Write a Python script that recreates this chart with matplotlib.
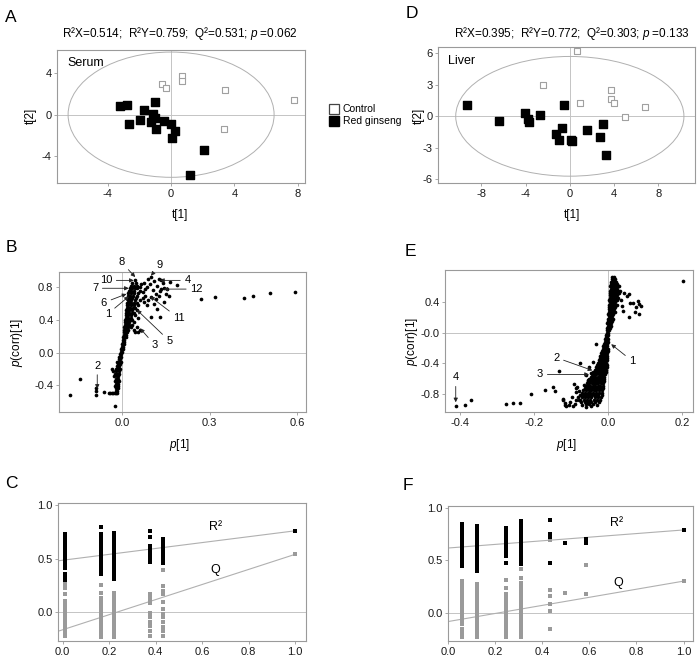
import numpy as np
import matplotlib
matplotlib.use("Agg")
import matplotlib.pyplot as plt
from matplotlib.patches import Ellipse
from matplotlib.lines import Line2D

plt.rcParams["font.family"] = ["Liberation Sans", "DejaVu Sans"]
plt.rcParams["axes.unicode_minus"] = False
plt.rcParams["mathtext.fontset"] = "custom"
plt.rcParams["mathtext.rm"] = "Liberation Sans"
plt.rcParams["mathtext.it"] = "Liberation Sans:italic"

W, H = 697, 663

# ---- A: serum OPLS-DA scores ----
serum_ctrl_t1 = [-0.55, -0.34, 0.67, 0.67, 3.42, 7.74, 3.35]
serum_ctrl_t2 = [2.92, 2.60, 3.72, 3.27, 2.40, 1.38, -1.35]
serum_rg_t1 = [-3.23, -2.77, -1.03, -1.70, -1.15, -1.01, -1.95, -2.64,
               -1.28, -0.46, -0.96, 0.00, 0.25, 0.08, 2.08, 1.17]
serum_rg_t2 = [0.87, 0.96, 1.25, 0.48, 0.03, -0.32, -0.48, -0.90,
               -0.67, -0.64, -1.38, -0.93, -1.54, -2.24, -3.40, -5.80]
serum_ellipse = (6.5, 6.05)

# ---- D: liver OPLS-DA scores ----
liver_ctrl_t1 = [0.66, -2.40, 0.93, 3.69, 3.69, 4.00, 6.79, 5.00]
liver_ctrl_t2 = [6.25, 3.02, 1.30, 2.48, 1.68, 1.27, 0.86, -0.06]
liver_rg_t1 = [-9.28, -6.40, -4.08, -3.81, -3.69, -2.73, -0.57, -0.75,
               -1.23, -1.02, 0.15, 0.24, 1.53, 3.03, 2.73, 3.24]
liver_rg_t2 = [1.11, -0.44, 0.32, -0.22, -0.57, 0.10, 1.11, -1.11,
               -1.68, -2.22, -2.22, -2.38, -1.27, -0.70, -2.00, -3.71]
liver_ellipse = (10.3, 5.7)

# ---- B: serum S-plot, rows of p(corr) with p[1] values ----
serum_band_y = [-0.50, -0.47, -0.44, -0.41, -0.38, -0.35, -0.32, -0.29, -0.26, -0.23,
                -0.20, -0.17, -0.14, -0.11, -0.08, -0.05, -0.02, 0.01, 0.04, 0.07,
                0.10, 0.13, 0.16, 0.19, 0.22, 0.25, 0.28, 0.31, 0.34, 0.37,
                0.40, 0.43, 0.46, 0.49, 0.52, 0.55, 0.58, 0.61, 0.64, 0.67,
                0.70, 0.73, 0.76, 0.79, 0.82, 0.85]
serum_band_x = [
    [-0.045, -0.040, -0.035, -0.030, -0.025, -0.020, -0.016],
    [-0.022, -0.017], [-0.020, -0.015], [-0.023, -0.018, -0.013], [-0.020, -0.015],
    [-0.024, -0.018, -0.012], [-0.021, -0.015], [-0.028, -0.019, -0.013],
    [-0.025, -0.017, -0.011], [-0.030, -0.020, -0.012], [-0.033, -0.022, -0.013, -0.008],
    [-0.018, -0.010], [-0.014, -0.008], [-0.016, -0.010, -0.005], [-0.012, -0.006],
    [-0.009, -0.004], [-0.007, -0.002], [-0.004, 0.000], [-0.002, 0.002], [0.000, 0.004],
    [0.001, 0.005], [0.002, 0.007], [0.003, 0.008], [0.004, 0.009, 0.013],
    [0.005, 0.010, 0.015],
    [0.006, 0.010, 0.014, 0.018, 0.045, 0.055],
    [0.007, 0.011, 0.015, 0.020, 0.040, 0.060],
    [0.008, 0.012, 0.016, 0.021, 0.030, 0.050],
    [0.009, 0.013, 0.018, 0.023, 0.035],
    [0.010, 0.014, 0.019, 0.025, 0.040],
    [0.011, 0.015, 0.020, 0.027, 0.034],
    [0.012, 0.016, 0.021, 0.029, 0.055],
    [0.013, 0.017, 0.022, 0.031, 0.045],
    [0.014, 0.018, 0.024, 0.033, 0.042],
    [0.015, 0.019, 0.025, 0.035, 0.050],
    [0.016, 0.021, 0.027, 0.037, 0.045],
    [0.017, 0.022, 0.029, 0.040, 0.055],
    [0.018, 0.023, 0.030, 0.042, 0.050],
    [0.019, 0.025, 0.032, 0.045, 0.060],
    [0.020, 0.026, 0.034, 0.048, 0.070],
    [0.021, 0.028, 0.036, 0.050, 0.080],
    [0.022, 0.030, 0.040, 0.055],
    [0.024, 0.032, 0.042, 0.060],
    [0.026, 0.034, 0.044, 0.052],
    [0.030, 0.040, 0.050],
    [0.035, 0.048],
]
serum_extra_p = [0.045, 0.060, 0.065, 0.070, 0.075, 0.080, 0.085, 0.090, 0.095, 0.100,
                 0.105, 0.110, 0.115, 0.120, 0.125, 0.130, 0.135, 0.140, 0.145, 0.150,
                 0.155, 0.160, 0.165, 0.100, 0.090, 0.110, 0.120, 0.085, 0.100, 0.130,
                 0.075, 0.145, 0.115, 0.125, 0.135,
                 -0.177, -0.143, -0.089, -0.089, -0.089, -0.063, -0.025,
                 0.187, 0.270, 0.320, 0.417, 0.450, 0.507, 0.592]
serum_extra_pcorr = [0.89, 0.80, 0.84, 0.75, 0.86, 0.78, 0.81, 0.90, 0.84, 0.93,
                     0.77, 0.88, 0.72, 0.82, 0.90, 0.76, 0.89, 0.85, 0.79, 0.72,
                     0.78, 0.70, 0.87, 0.68, 0.64, 0.60, 0.53, 0.58, 0.44, 0.44,
                     0.62, 0.62, 0.66, 0.70, 0.78,
                     -0.525, -0.32, -0.43, -0.47, -0.52, -0.48, -0.66,
                     0.833, 0.656, 0.685, 0.668, 0.700, 0.730, 0.746]
# label, text position, arrow head
serum_marks = [
    ("8", (-0.002, 1.11), (0.045, 0.928)), ("9", (0.130, 1.08), (0.099, 0.944)),
    ("10", (-0.055, 0.887), (0.040, 0.887)), ("4", (0.224, 0.887), (0.130, 0.887)),
    ("7", (-0.092, 0.79), (0.023, 0.79)), ("12", (0.255, 0.78), (0.142, 0.78)),
    ("6", (-0.062, 0.614), (0.015, 0.72)), ("1", (-0.049, 0.474), (0.023, 0.69)),
    ("11", (0.195, 0.42), (0.096, 0.69)), ("5", (0.162, 0.144), (0.051, 0.524)),
    ("3", (0.113, 0.09), (0.062, 0.297)), ("2", (-0.085, -0.16), (-0.085, -0.445)),
]

# ---- E: liver S-plot ----
liver_band_y = [0.72, 0.69, 0.66, 0.63, 0.60, 0.57, 0.54, 0.51, 0.48, 0.45,
                0.42, 0.39, 0.36, 0.33, 0.30, 0.27, 0.24, 0.21, 0.18, 0.15,
                0.12, 0.09, 0.06, 0.03, 0.00, -0.03, -0.06, -0.09, -0.12, -0.15,
                -0.18, -0.21, -0.24, -0.27, -0.30, -0.33, -0.36, -0.39, -0.42, -0.45,
                -0.48, -0.51, -0.54, -0.57, -0.60, -0.63, -0.66, -0.69, -0.72, -0.75,
                -0.78, -0.81, -0.84, -0.87, -0.90, -0.93]
liver_band_x = [
    [0.012, 0.016], [0.010, 0.015, 0.020], [0.008, 0.013, 0.018, 0.023],
    [0.009, 0.014, 0.019, 0.025], [0.007, 0.012, 0.017, 0.022, 0.028],
    [0.008, 0.013, 0.018, 0.024], [0.006, 0.011, 0.016, 0.021, 0.027, 0.033],
    [0.007, 0.012, 0.017, 0.022, 0.030], [0.005, 0.010, 0.015, 0.020, 0.025],
    [0.006, 0.011, 0.016, 0.022, 0.028], [0.004, 0.009, 0.014, 0.019, 0.024],
    [0.005, 0.010, 0.015, 0.020], [0.003, 0.008, 0.013, 0.018, 0.024],
    [0.004, 0.009, 0.014, 0.019], [0.002, 0.007, 0.012, 0.017],
    [0.003, 0.008, 0.013, 0.018], [0.001, 0.006, 0.011, 0.015],
    [0.002, 0.007, 0.012], [0.000, 0.005, 0.010, 0.014], [0.001, 0.006, 0.010],
    [-0.001, 0.003, 0.008], [0.000, 0.004, 0.008], [-0.002, 0.002, 0.006],
    [-0.001, 0.003], [-0.003, 0.001], [-0.004, 0.000], [-0.006, -0.002],
    [-0.007, -0.003, 0.001], [-0.009, -0.004, 0.000], [-0.011, -0.006, -0.001],
    [-0.012, -0.007, -0.002], [-0.014, -0.009, -0.004, 0.000],
    [-0.016, -0.012, -0.008, -0.004, 0.000], [-0.018, -0.014, -0.010, -0.006, -0.001],
    [-0.020, -0.016, -0.012, -0.008, -0.004, -0.001],
    [-0.022, -0.018, -0.014, -0.010, -0.006, -0.002],
    [-0.025, -0.020, -0.015, -0.011, -0.007, -0.003],
    [-0.028, -0.023, -0.018, -0.013, -0.008, -0.004],
    [-0.030, -0.025, -0.020, -0.015, -0.010, -0.006, -0.002],
    [-0.033, -0.028, -0.022, -0.017, -0.012, -0.007, -0.003],
    [-0.036, -0.030, -0.024, -0.019, -0.014, -0.009, -0.004],
    [-0.040, -0.034, -0.028, -0.022, -0.016, -0.011, -0.006],
    [-0.043, -0.037, -0.031, -0.025, -0.019, -0.013, -0.008],
    [-0.046, -0.040, -0.034, -0.028, -0.022, -0.016, -0.010],
    [-0.050, -0.044, -0.038, -0.032, -0.026, -0.020, -0.014, -0.010],
    [-0.053, -0.047, -0.041, -0.035, -0.029, -0.023, -0.017, -0.011],
    [-0.056, -0.050, -0.044, -0.038, -0.032, -0.026, -0.019, -0.012],
    [-0.060, -0.053, -0.047, -0.041, -0.034, -0.027, -0.020, -0.013],
    [-0.063, -0.056, -0.050, -0.043, -0.036, -0.029, -0.021, -0.014],
    [-0.066, -0.059, -0.052, -0.045, -0.038, -0.031, -0.023, -0.015],
    [-0.070, -0.063, -0.055, -0.048, -0.040, -0.032, -0.024, -0.016],
    [-0.075, -0.067, -0.059, -0.051, -0.043, -0.034, -0.026, -0.017],
    [-0.080, -0.071, -0.062, -0.053, -0.045, -0.036, -0.027, -0.018],
    [-0.085, -0.075, -0.065, -0.056, -0.047, -0.038, -0.029, -0.020],
    [-0.072, -0.063, -0.054, -0.045, -0.035, -0.025],
    [-0.060, -0.050, -0.040],
]
liver_extra_p = [0.031, 0.043, 0.056, 0.067, 0.075, 0.084, 0.090, 0.081, 0.072, 0.057,
                 0.042, 0.085, 0.052, 0.061, 0.035, 0.038, 0.202,
                 -0.411, -0.387, -0.369, -0.276, -0.256, -0.237, -0.209, -0.169, -0.148,
                 -0.144, -0.132, -0.121, -0.117, -0.105, -0.074, -0.031,
                 -0.092, -0.083, -0.078, -0.087, -0.069, -0.096, -0.078, -0.101, -0.089,
                 -0.114, -0.121, -0.116, -0.095, -0.070, -0.060, -0.045, -0.030, -0.085,
                 -0.065, -0.055, -0.060, -0.050, -0.040, -0.045]
liver_extra_pcorr = [0.604, 0.509, 0.496, 0.378, 0.335, 0.370, 0.343, 0.409, 0.265, 0.204,
                     0.278, 0.235, 0.473, 0.387, 0.420, 0.350, 0.670,
                     -0.957, -0.935, -0.874, -0.926, -0.909, -0.909, -0.796, -0.743, -0.700,
                     -0.760, -0.500, -0.870, -0.935, -0.935, -0.396, -0.143,
                     -0.667, -0.710, -0.757, -0.770, -0.817, -0.840, -0.880, -0.903, -0.925,
                     -0.946, -0.860, -0.912, -0.950, -0.940, -0.960, -0.950, -0.940, -0.720,
                     -0.680, -0.620, -0.550, -0.450, -0.380, -0.520]
liver_marks = [
    ("1", (0.066, -0.37), (0.009, -0.152)), ("2", (-0.139, -0.326), (-0.042, -0.491)),
    ("3", (-0.183, -0.543), (-0.051, -0.543)), ("4", (-0.411, -0.58), (-0.411, -0.904)),
]

# ---- C: serum permutation test ----
serum_perm_corr = [0.01, 0.165, 0.222, 0.376, 0.43, 1.0]
serum_perm_r2 = [
    [0.73, 0.71, 0.69, 0.67, 0.65, 0.63, 0.61, 0.59, 0.57, 0.55, 0.53, 0.51, 0.49,
     0.47, 0.45, 0.43, 0.41, 0.36, 0.34, 0.32, 0.30],
    [0.80, 0.73, 0.71, 0.69, 0.67, 0.65, 0.63, 0.61, 0.59, 0.57, 0.55, 0.53, 0.51,
     0.49, 0.47, 0.45, 0.43, 0.41, 0.39, 0.37, 0.36],
    [0.74, 0.72, 0.70, 0.68, 0.66, 0.64, 0.62, 0.60, 0.58, 0.56, 0.54, 0.52, 0.50,
     0.48, 0.46, 0.44, 0.42, 0.40, 0.37, 0.35, 0.33, 0.31],
    [0.76, 0.70, 0.62, 0.60, 0.56, 0.53, 0.51, 0.49, 0.47],
    [0.68, 0.655, 0.63, 0.605, 0.58, 0.555, 0.53, 0.505, 0.48, 0.46],
    [0.76],
]
serum_perm_q2 = [
    [0.27, 0.25, 0.23, 0.17, 0.10, 0.08, 0.06, 0.04, 0.02, 0.00, -0.02, -0.04, -0.06,
     -0.08, -0.10, -0.12, -0.14, -0.16, -0.18, -0.20, -0.22],
    [0.255, 0.175, 0.13, 0.11, 0.09, 0.07, 0.05, 0.03, 0.01, -0.01, -0.03, -0.05, -0.07,
     -0.09, -0.11, -0.13, -0.15, -0.17, -0.19, -0.21, -0.23],
    [0.18, 0.16, 0.14, 0.11, 0.09, 0.07, 0.05, 0.03, 0.01, -0.01, -0.03, -0.05, -0.07,
     -0.09, -0.12, -0.14, -0.17, -0.19, -0.21, -0.23],
    [0.166, 0.14, 0.11, 0.086, -0.01, -0.05, -0.09, -0.13, -0.18, -0.22],
    [0.395, 0.245, 0.20, 0.166, 0.096, 0.03, -0.02, -0.05, -0.095, -0.14, -0.18, -0.22],
    [0.54],
]
serum_r2_intercept, serum_q2_intercept = 0.485, -0.165

# ---- F: liver permutation test ----
liver_perm_corr = [0.06, 0.123, 0.248, 0.309, 0.433, 0.496, 0.584, 1.0]
liver_perm_r2 = [
    [0.84, 0.815, 0.79, 0.765, 0.74, 0.715, 0.69, 0.665, 0.64, 0.615, 0.59, 0.565,
     0.54, 0.515, 0.49, 0.465, 0.44],
    [0.82, 0.795, 0.77, 0.745, 0.72, 0.695, 0.67, 0.645, 0.62, 0.595, 0.57, 0.545,
     0.52, 0.495, 0.47, 0.445, 0.42, 0.40],
    [0.81, 0.785, 0.76, 0.735, 0.71, 0.685, 0.66, 0.635, 0.61, 0.585, 0.56, 0.535, 0.47],
    [0.875, 0.85, 0.825, 0.80, 0.775, 0.75, 0.725, 0.70, 0.675, 0.65, 0.625, 0.60,
     0.575, 0.55, 0.525, 0.50, 0.475, 0.46],
    [0.88, 0.745, 0.72, 0.475],
    [0.66],
    [0.705, 0.66],
    [0.787],
]
liver_perm_q2 = [
    [0.30, 0.275, 0.25, 0.225, 0.20, 0.175, 0.15, 0.125, 0.10, 0.075, 0.05, 0.025,
     0.00, -0.025, -0.05, -0.075, -0.105, -0.155, -0.18, -0.205, -0.23],
    [0.27, 0.245, 0.22, 0.195, 0.17, 0.145, 0.12, 0.095, 0.07, 0.045, 0.02, -0.005,
     -0.03, -0.055, -0.08, -0.105, -0.13, -0.155, -0.18, -0.205, -0.23],
    [0.315, 0.23, 0.18, 0.155, 0.13, 0.105, 0.08, 0.055, 0.03, 0.005, -0.02, -0.045,
     -0.07, -0.095, -0.12, -0.145, -0.17, -0.195, -0.23],
    [0.415, 0.33, 0.28, 0.255, 0.23, 0.205, 0.18, 0.155, 0.13, 0.105, 0.08, 0.055,
     0.03, 0.005, -0.02, -0.045, -0.07, -0.095, -0.12, -0.145, -0.17, -0.195, -0.23],
    [0.69, 0.22, 0.156, 0.079, 0.012, -0.16],
    [0.187],
    [0.452, 0.175],
    [0.30],
]
liver_r2_intercept, liver_q2_intercept = 0.615, -0.085


def px_rect(l, t, r, b):
    return [l / W, 1 - b / H, (r - l) / W, (b - t) / H]


def style(ax):
    for s in ax.spines.values():
        s.set_color("#9a9a9a")
        s.set_linewidth(0.8)
    ax.tick_params(direction="out", length=2.5, width=0.6, color="#9a9a9a",
                   labelsize=8, pad=1.5, labelcolor="#1a1a1a")


def ftext(x, y, s, **kw):
    fig.text(x / W, 1 - y / H, s, ha="center", va="center", **kw)


fig = plt.figure(figsize=(W / 100, H / 100), dpi=100)
gl = dict(color="#c4c4c4", lw=0.7, zorder=0)


# ---- score plots ----
def score_plot(ax, ct1, ct2, rt1, rt2, ell, name):
    ax.axhline(0, **gl)
    ax.axvline(0, **gl)
    ax.add_patch(Ellipse((0, 0), 2 * ell[0], 2 * ell[1], fill=False,
                         edgecolor="#b0b0b0", lw=0.7))
    ax.scatter(ct1, ct2, marker="s", s=22, facecolor="white",
               edgecolor="#a0a0a0", linewidths=0.8, zorder=3)
    ax.scatter(rt1, rt2, marker="s", s=26, color="black", zorder=3)
    ax.text(0.04, 0.9, name, transform=ax.transAxes, fontsize=9, va="center")
    style(ax)


axA = fig.add_axes(px_rect(57, 50, 305, 183))
score_plot(axA, serum_ctrl_t1, serum_ctrl_t2, serum_rg_t1, serum_rg_t2,
           serum_ellipse, "Serum")
axA.set_xlim(-7.2, 8.45)
axA.set_ylim(-6.6, 6.25)
axA.set_xticks([-4, 0, 4, 8])
axA.set_yticks([-4, 0, 4])

axD = fig.add_axes(px_rect(438, 47, 695, 183))
score_plot(axD, liver_ctrl_t1, liver_ctrl_t2, liver_rg_t1, liver_rg_t2,
           liver_ellipse, "Liver")
axD.set_xlim(-11.9, 11.3)
axD.set_ylim(-6.35, 6.6)
axD.set_xticks([-8, -4, 0, 4, 8])
axD.set_yticks([-6, -3, 0, 3, 6])

handles = [Line2D([], [], ls="", marker="s", ms=6.5, mfc="white", mec="#444444", mew=0.9),
           Line2D([], [], ls="", marker="s", ms=6.5, color="black")]
fig.legend(handles, ["Control", "Red ginseng"], loc="upper left",
           bbox_to_anchor=(323 / W, 1 - 99 / H), frameon=False, fontsize=7.5,
           handletextpad=0.2, labelspacing=0.2, borderpad=0, handlelength=1.2)

ftext(180, 33, "R²X=0.514;  R²Y=0.759;  Q²=0.531; $\\mathit{p}$ =0.062", fontsize=8.5)
ftext(572, 33, "R²X=0.395;  R²Y=0.772;  Q²=0.303; $\\mathit{p}$ =0.133", fontsize=8.5)
ftext(180, 215, "t[1]", fontsize=8.5)
ftext(572, 215, "t[1]", fontsize=8.5)
ftext(31, 116, "t[2]", fontsize=8.5, rotation=90)
ftext(419, 116, "t[2]", fontsize=8.5, rotation=90)


# ---- S-plots ----
def s_plot(ax, band_x, band_y, ex, ey, marks):
    ax.axhline(0, **gl)
    ax.axvline(0, **gl)
    bx = [x for row in band_x for x in row]
    by = [y for row, y in zip(band_x, band_y) for _ in row]
    ax.scatter(bx + ex, by + ey, s=7, color="black", linewidths=0, zorder=3)
    for lab, xt, xh in marks:
        ax.annotate(lab, xy=xh, xytext=xt, fontsize=8, ha="center", va="center",
                    annotation_clip=False,
                    arrowprops=dict(arrowstyle="-|>", color="#222222", lw=0.6,
                                    mutation_scale=6, shrinkA=1, shrinkB=0))
    style(ax)


axB = fig.add_axes(px_rect(59, 272, 306, 412))
s_plot(axB, serum_band_x, serum_band_y, serum_extra_p, serum_extra_pcorr, serum_marks)
axB.set_xlim(-0.216, 0.63)
axB.set_ylim(-0.73, 0.99)
axB.set_xticks([0, 0.3, 0.6], ["0.0", "0.3", "0.6"])
axB.set_yticks([-0.4, 0, 0.4, 0.8], ["-0.4", "0.0", "0.4", "0.8"])

axE = fig.add_axes(px_rect(445, 270, 693, 412))
s_plot(axE, liver_band_x, liver_band_y, liver_extra_p, liver_extra_pcorr, liver_marks)
axE.set_xlim(-0.44, 0.23)
axE.set_ylim(-1.03, 0.81)
axE.set_xticks([-0.4, -0.2, 0, 0.2], ["-0.4", "-0.2", "0.0", "0.2"])
axE.set_yticks([-0.8, -0.4, 0, 0.4], ["-0.8", "-0.4", "-0.0", "0.4"])

ftext(180, 445, "$\\mathit{p}$[1]", fontsize=8.5)
ftext(567, 445, "$\\mathit{p}$[1]", fontsize=8.5)
ftext(17, 342, "$\\mathit{p}$(corr)[1]", fontsize=8.5, rotation=90)
ftext(412, 341, "$\\mathit{p}$(corr)[1]", fontsize=8.5, rotation=90)


# ---- permutation plots ----
def perm_plot(ax, corr, r2, q2, r2_int, q2_int, x0, lab_r, lab_q):
    ax.axhline(0, **gl)
    for x, ys in zip(corr, q2):
        ax.scatter([x] * len(ys), ys, marker="s", s=7, color="#9a9a9a",
                   linewidths=0, zorder=3)
    for x, ys in zip(corr, r2):
        ax.scatter([x] * len(ys), ys, marker="s", s=7, color="black",
                   linewidths=0, zorder=3)
    xs = np.array([x0, corr[-1]])
    for icpt, ys in ((r2_int, r2), (q2_int, q2)):
        end = ys[-1][0]
        ax.plot(xs, icpt + (end - icpt) * xs / corr[-1], color="#b0b0b0", lw=0.8,
                zorder=2)
    ax.text(*lab_r, "R²", fontsize=9, ha="center", va="center")
    ax.text(*lab_q, "Q", fontsize=9, ha="center", va="center")
    ax.set_xticks([0, 0.2, 0.4, 0.6, 0.8, 1.0], ["0.0", "0.2", "0.4", "0.6", "0.8", "1.0"])
    ax.set_yticks([0, 0.5, 1.0], ["0.0", "0.5", "1.0"])
    style(ax)


axC = fig.add_axes(px_rect(58, 503, 306, 641))
perm_plot(axC, serum_perm_corr, serum_perm_r2, serum_perm_q2,
          serum_r2_intercept, serum_q2_intercept, -0.02, (0.66, 0.80), (0.656, 0.39))
axC.set_xlim(-0.02, 1.047)
axC.set_ylim(-0.27, 1.02)

axF = fig.add_axes(px_rect(448, 506, 693, 641))
perm_plot(axF, liver_perm_corr, liver_perm_r2, liver_perm_q2,
          liver_r2_intercept, liver_q2_intercept, 0.0, (0.716, 0.85), (0.723, 0.283))
axF.set_xlim(0.0, 1.04)
axF.set_ylim(-0.27, 1.015)

for lab, x, y in [("A", 11, 17), ("B", 11, 248), ("C", 11, 483),
                  ("D", 412, 13), ("E", 410, 252), ("F", 408, 485)]:
    ftext(x, y, lab, fontsize=12.5)

fig.savefig("out.png", dpi=100)
